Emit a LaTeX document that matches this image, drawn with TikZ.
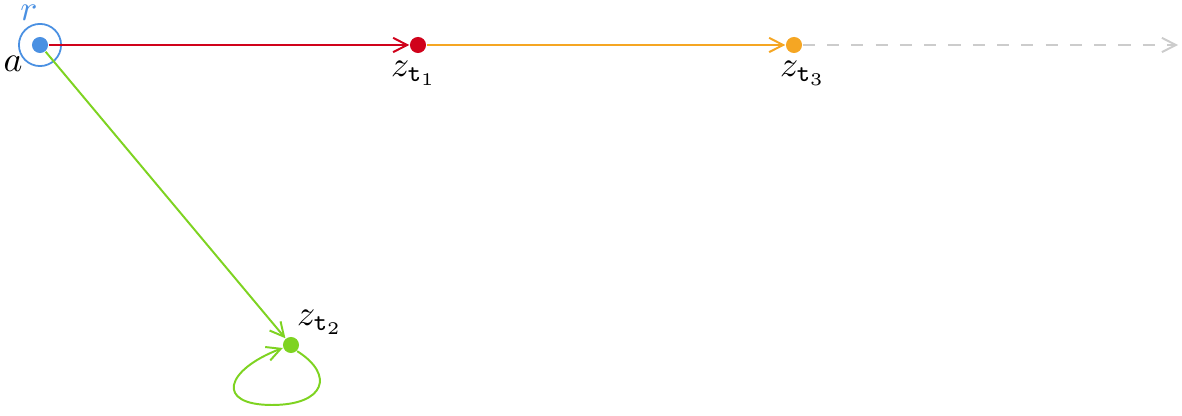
\documentclass[tikz,border=0pt]{standalone}
\usetikzlibrary{arrows.meta}
\definecolor{cblue}{HTML}{4A90E2}
\definecolor{cred}{HTML}{D0021B}
\definecolor{corange}{HTML}{F5A623}
\definecolor{cgreen}{HTML}{7ED321}
\definecolor{cgray}{HTML}{CCCCCC}
\begin{document}
\begin{tikzpicture}[x=0.28pt,y=-0.28pt,
  dot/.style={circle,fill=#1,inner sep=0pt,minimum size=4.5pt},
  conn/.style={draw=#1,line width=0.55pt,-{Straight Barb[length=3.9pt,width=4pt]}},
  lbl/.style={inner sep=0pt}]
\useasboundingbox (0,0) rectangle (1182,416);
\node[dot=cblue] (a) at (40,45) {};
\node[circle,draw=cblue,line width=0.5pt,inner sep=0pt,minimum size=11.8pt] (ring) at (40,45) {};
\node[dot=cred] (z1) at (418,45) {};
\node[dot=corange] (z3) at (794,45) {};
\node[dot=cgreen] (z2) at (291,345) {};
\coordinate (end) at (1178,45);
\node[lbl,text=cblue] (r) at (29,13) {$r$};
\node[lbl] (la) at (13,64) {$a$};
\node[lbl] (l1) at (414,73) {$z_{\mathtt{t}_1}$};
\node[lbl] (l3) at (803,73) {$z_{\mathtt{t}_3}$};
\node[lbl] (l2) at (320,322) {$z_{\mathtt{t}_2}$};
\draw[conn=cred] (a) -- (z1);
\draw[conn=corange] (z1) -- (z3);
\draw[conn=cgray,dash pattern=on 3.4pt off 3.4pt] (z3) -- (end);
\draw[conn=cgreen] (a) -- (z2);
\draw[conn=cgreen] (z2.-45) .. controls (335,375) and (325,405) .. (272,405)
  .. controls (215,405) and (225,370) .. (z2.200);
\end{tikzpicture}
\end{document}
